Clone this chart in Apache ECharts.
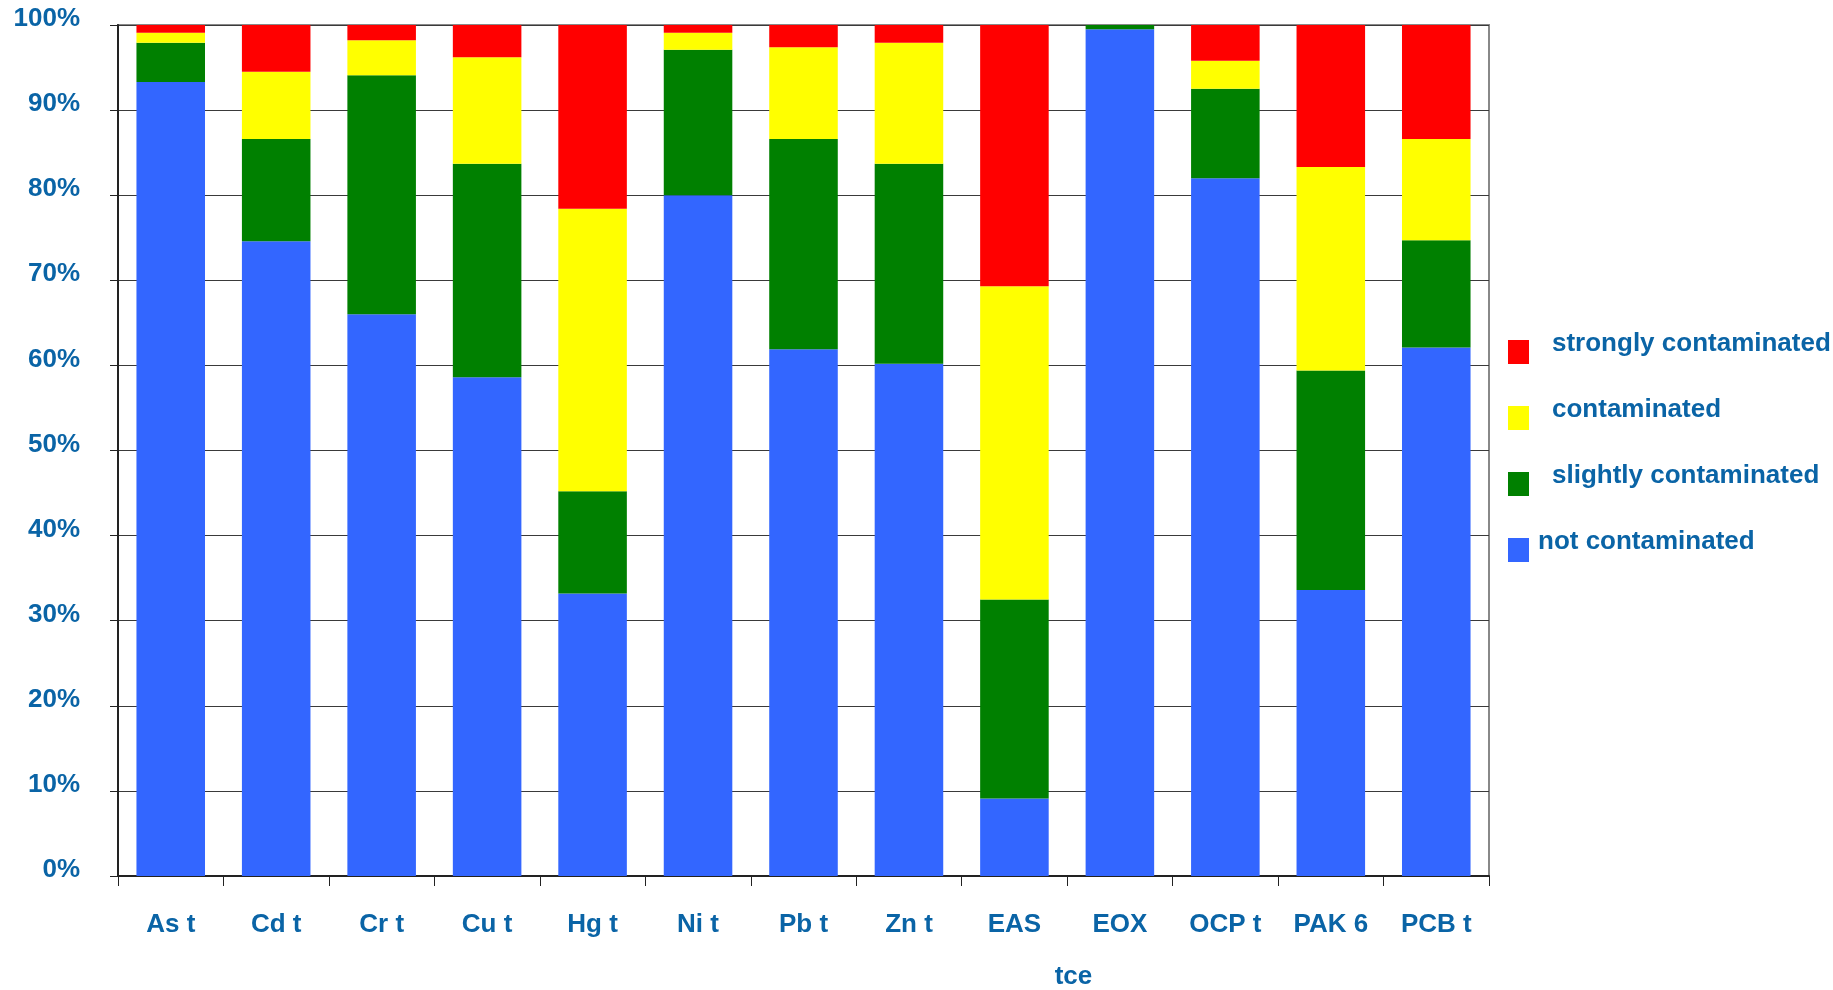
<!DOCTYPE html>
<html>
<head>
<meta charset="utf-8">
<script src="https://cdn.jsdelivr.net/npm/echarts@6/dist/echarts.min.js"></script>
<style>
html,body{margin:0;padding:0;background:#fff;}
#chart{width:1833px;height:990px;}
</style>
</head>
<body>
<div id="chart"></div>
<script>
const categories = ['As t','Cd t','Cr t','Cu t','Hg t','Ni t','Pb t','Zn t','EAS','EOX','OCP t','PAK 6','PCB t'];
const notContaminated      = [93.3, 74.6, 66.0, 58.6, 33.2, 80.0, 61.9, 60.2,  9.1, 99.5, 82.0, 33.6, 62.1];
const slightlyContaminated = [ 4.6, 12.0, 28.1, 25.1, 12.0, 17.1, 24.7, 23.5, 23.4,  0.5, 10.5, 25.8, 12.6];
const contaminated         = [ 1.2,  7.9,  4.1, 12.5, 33.2,  2.0, 10.8, 14.2, 36.8,  0.0,  3.3, 23.9, 11.9];
const stronglyContaminated = [ 0.9,  5.5,  1.8,  3.8, 21.6,  0.9,  2.6,  2.1, 30.7,  0.0,  4.2, 16.7, 13.4];
const yTicks = [0,10,20,30,40,50,60,70,80,90,100];
const seriesNames = ['not contaminated','slightly contaminated','contaminated','strongly contaminated'];
const legendOrder = ['strongly contaminated','contaminated','slightly contaminated','not contaminated'];

const txt = '#0a64a6';
const font = 'Liberation Sans, Arial, sans-serif';
const fs = 26;
const chart = echarts.init(document.getElementById('chart'));
const colors = ['#3366ff','#008000','#ffff00','#ff0000'];
const values = [notContaminated, slightlyContaminated, contaminated, stronglyContaminated];

chart.setOption({
  animation: false,
  backgroundColor: '#fff',
  grid: {left: 118, right: 344, top: 25, bottom: 114, show: true, borderColor: '#888', borderWidth: 2,
    containLabel: false, outerBoundsMode: 'none'},
  legend: {
    orient: 'vertical', left: 1503, top: 326, padding: 5,
    itemWidth: 21, itemHeight: 24, itemGap: 33,
    icon: 'rect',
    data: legendOrder,
    formatter: n => n === 'not contaminated' ? '{b|' + n + '}' : '{a|' + n + '}',
    textStyle: {
      color: txt, fontSize: fs, fontWeight: 'bold', fontFamily: font,
      rich: {
        a: {color: txt, fontSize: fs, fontWeight: 'bold', fontFamily: font, padding: [0,0,16,18]},
        b: {color: txt, fontSize: fs, fontWeight: 'bold', fontFamily: font, padding: [0,0,16,4]}
      }
    }
  },
  xAxis: {
    type: 'category', data: categories,
    name: 'tce', nameLocation: 'middle', nameGap: 88,
    nameTextStyle: {color: txt, fontSize: fs, fontWeight: 'bold', fontFamily: font, padding: [0,0,0,540]},
    axisLine: {lineStyle: {color: '#222', width: 2}},
    axisTick: {show: true, length: 10, lineStyle: {color: '#222'}},
    axisLabel: {color: txt, fontSize: fs, fontWeight: 'bold', fontFamily: font, margin: 36, interval: 0},
    splitLine: {show: false}
  },
  yAxis: {
    type: 'value', min: yTicks[0], max: yTicks[yTicks.length-1], interval: 10,
    axisLine: {show: true, lineStyle: {color: '#222', width: 2}},
    axisTick: {show: true, length: 8, lineStyle: {color: '#222'}},
    axisLabel: {color: txt, fontSize: fs, fontWeight: 'bold', fontFamily: font, margin: 38,
      formatter: '{value}%', verticalAlign: 'bottom', lineHeight: 12},
    splitLine: {show: true, lineStyle: {color: '#3a3a3a', width: 1}}
  },
  series: seriesNames.map((n, i) => ({
    name: n, type: 'bar', stack: 'total', data: values[i],
    barCategoryGap: '35%',
    itemStyle: {color: colors[i]}
  }))
});
</script>
</body>
</html>
